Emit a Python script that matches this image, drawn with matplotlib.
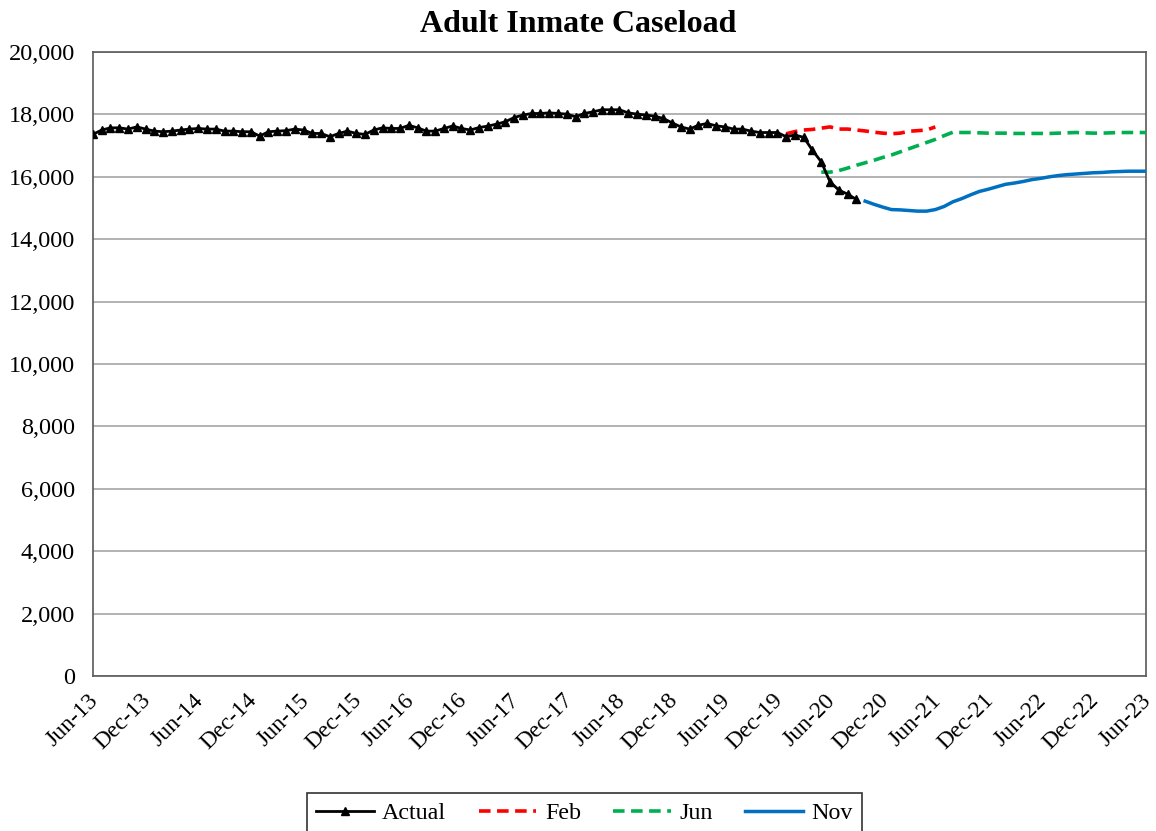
import matplotlib
matplotlib.use("Agg")
import matplotlib.pyplot as plt
import matplotlib.transforms as mtrans
import numpy as np

plt.rcParams['font.family'] = ['Liberation Serif', 'DejaVu Serif']

# month index 0 = Jun-13, 120 = Jun-23
tick_labels = []
for yr in range(13, 24):
    tick_labels.append("Jun-%d" % yr)
    if yr < 23:
        tick_labels.append("Dec-%d" % yr)

actual = [17360, 17500, 17570, 17570, 17530, 17600, 17530, 17465, 17445, 17465,
          17500, 17530, 17550, 17530, 17530, 17465, 17465, 17445, 17445, 17305,
          17445, 17465, 17480, 17530, 17500, 17390, 17390, 17285, 17390, 17465,
          17390, 17360, 17500, 17570, 17550, 17550, 17650, 17570, 17465, 17465,
          17550, 17630, 17550, 17500, 17580, 17625, 17690, 17765, 17900, 17980,
          18030, 18030, 18050, 18030, 18010, 17925, 18030, 18085, 18150, 18150,
          18150, 18050, 18010, 17980, 17945, 17870, 17730, 17600, 17530, 17655,
          17710, 17635, 17600, 17530, 17530, 17465, 17420, 17420, 17420, 17285,
          17340, 17265, 16850, 16480, 15840, 15575, 15445, 15275]
actual_start = 0

feb = [17380, 17450, 17500, 17520, 17560, 17600, 17530, 17530, 17500, 17470,
       17430, 17400, 17380, 17400, 17460, 17480, 17500, 17600]
feb_start = 79

jun = [16150, 16150, 16200, 16280, 16370, 16450, 16530, 16620, 16700, 16800,
       16900, 17000, 17100, 17200, 17320, 17430, 17420, 17420, 17410, 17400,
       17400, 17400, 17390, 17390, 17390, 17390, 17390, 17400, 17410, 17420,
       17410, 17400, 17400, 17410, 17420, 17420, 17420, 17420]
jun_start = 83

nov = [15220, 15120, 15030, 14950, 14940, 14920, 14900, 14900, 14950, 15050,
       15200, 15300, 15420, 15530, 15600, 15680, 15760, 15800, 15850, 15910,
       15950, 16000, 16040, 16070, 16090, 16110, 16130, 16140, 16160, 16170,
       16180, 16180, 16180]
nov_start = 88

fig = plt.figure(figsize=(11.56, 8.31), dpi=100)
ax = fig.add_axes([0.0804, 0.1865, 0.9109, 0.7509])

ax.plot(np.arange(len(actual)) + actual_start, actual, color='black', lw=2,
        marker='^', markersize=6, label='Actual', zorder=5)
ax.plot(np.arange(len(feb)) + feb_start, feb, color='#ff0000', lw=2.6,
        dashes=(3.2, 1.8), label='Feb', zorder=4)
ax.plot(np.arange(len(jun)) + jun_start, jun, color='#00b050', lw=2.6,
        dashes=(3.2, 1.8), label='Jun', zorder=4)
ax.plot(np.arange(len(nov)) + nov_start, nov, color='#0070c0', lw=2.5,
        label='Nov', zorder=4)

ax.set_xlim(0, 120)
ax.set_ylim(0, 20000)
ax.set_xticks(np.arange(0, 121, 6))
ax.set_xticklabels(tick_labels, rotation=45, ha='right', rotation_mode='anchor')
ax.set_yticks(np.arange(0, 20001, 2000))
ax.set_yticklabels(["{:,}".format(v) for v in range(0, 20001, 2000)])
ax.tick_params(length=0, labelsize=17.5)
ax.tick_params(axis='y', pad=13)
ax.tick_params(axis='x', pad=10, labelsize=17)
shift = mtrans.ScaledTranslation(-5 / 100, 0, fig.dpi_scale_trans)
for lab in ax.get_xticklabels():
    lab.set_transform(lab.get_transform() + shift)
ax.grid(axis='y', color='#a6a6a6', lw=1.2)
ax.set_axisbelow(True)
for s in ax.spines.values():
    s.set_color('#595959')
    s.set_linewidth(1.2)

fig.suptitle("Adult Inmate Caseload", fontsize=23, fontweight='bold', y=0.988)

leg = fig.legend(loc='upper center', bbox_to_anchor=(0.5056, 0.0457), ncol=4,
                 fontsize=17.3, frameon=True, fancybox=False, edgecolor='black',
                 handlelength=2.4, handletextpad=0.35, columnspacing=1.35,
                 borderpad=0.4, borderaxespad=0)
leg.get_frame().set_linewidth(1.2)

fig.savefig("out.png", dpi=100)
